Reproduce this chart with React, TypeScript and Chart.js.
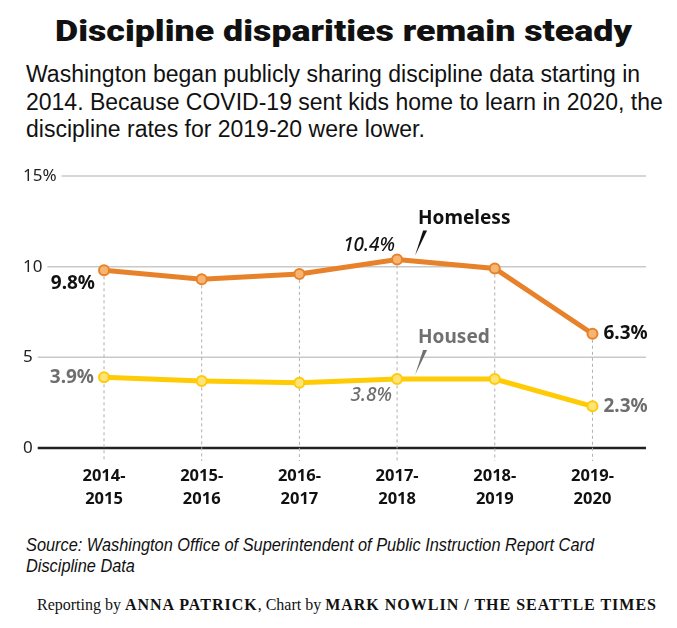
import React, { useEffect, useLayoutEffect, useRef } from "react";
import { Chart, registerables } from "chart.js";

Chart.register(...registerables);

const categories = ["2014-2015", "2015-2016", "2016-2017", "2017-2018", "2018-2019", "2019-2020"];
const homeless = [9.8, 9.3, 9.6, 10.4, 9.9, 6.3];
const housed = [3.9, 3.7, 3.6, 3.8, 3.8, 2.3];
const yTickValues = [0, 5, 10, 15];
const yTickLabels = ["0", "5", "10", "15%"];
const seriesNames = ["Homeless", "Housed"];

const ORANGE = "#E8822A";
const ORANGE_LIGHT = "#F6B672";
const YELLOW = "#FFCB05";
const YELLOW_LIGHT = "#FFE37A";
const DARK = "#111111";
const GRAY = "#6e6e6e";
const LABEL_FONT = "'Noto Sans', sans-serif";

const valueLabels = [
  { ds: 0, i: 0, align: "right", dx: -9, dy: 13, style: "bold", color: DARK },
  { ds: 0, i: 3, align: "right", dx: -2, dy: -14, style: "italic", color: DARK },
  { ds: 0, i: 5, align: "left", dx: 11, dy: 0, style: "bold", color: DARK },
  { ds: 1, i: 0, align: "right", dx: -10, dy: 0, style: "bold", color: GRAY },
  { ds: 1, i: 3, align: "right", dx: -5, dy: 17, style: "italic", color: GRAY },
  { ds: 1, i: 5, align: "left", dx: 11, dy: 0, style: "bold", color: GRAY },
];
const nameLabels = [
  { ds: 0, i: 3, color: DARK },
  { ds: 1, i: 3, color: "#707070" },
];

const decorPlugin = {
  id: "decor",
  beforeDatasetsDraw(chart: any) {
    const { ctx, scales, chartArea } = chart;
    const x = scales.x;
    const y = scales.y;
    ctx.save();
    ctx.font = `17px ${LABEL_FONT}`;
    yTickValues.forEach((v, k) => {
      const py = y.getPixelForValue(v);
      const w = ctx.measureText(yTickLabels[k]).width;
      const startX = y.left + w + 5;
      ctx.beginPath();
      if (v === 0) {
        ctx.strokeStyle = "#222";
        ctx.lineWidth = 2.5;
      } else {
        ctx.strokeStyle = "#c9c9c9";
        ctx.lineWidth = 1.5;
      }
      ctx.moveTo(startX, py);
      ctx.lineTo(chartArea.right, py);
      ctx.stroke();
    });
    ctx.strokeStyle = "#b0b0b0";
    ctx.lineWidth = 1;
    ctx.setLineDash([3, 3]);
    categories.forEach((_, i) => {
      const px = x.getPixelForValue(i);
      const top = y.getPixelForValue(Math.max(homeless[i], housed[i]));
      ctx.beginPath();
      ctx.moveTo(px, top);
      ctx.lineTo(px, y.bottom + 13);
      ctx.stroke();
    });
    ctx.restore();
  },
  afterDatasetsDraw(chart: any) {
    const { ctx } = chart;
    ctx.save();
    ctx.textBaseline = "middle";
    valueLabels.forEach((l) => {
      const pt = chart.getDatasetMeta(l.ds).data[l.i];
      const val = (l.ds === 0 ? homeless : housed)[l.i];
      ctx.font = l.style === "bold" ? `bold 19px ${LABEL_FONT}` : `italic 500 19px ${LABEL_FONT}`;
      ctx.fillStyle = l.color;
      ctx.textAlign = l.align;
      ctx.fillText(`${val.toFixed(1)}%`, pt.x + l.dx, pt.y + l.dy);
    });
    nameLabels.forEach((l) => {
      const pt = chart.getDatasetMeta(l.ds).data[l.i];
      ctx.fillStyle = l.color;
      ctx.font = `bold 19px ${LABEL_FONT}`;
      ctx.textAlign = "left";
      ctx.fillText(seriesNames[l.ds], pt.x + 21, pt.y - 41);
      ctx.beginPath();
      ctx.moveTo(pt.x + 18, pt.y - 4);
      ctx.lineTo(pt.x + 26, pt.y - 29);
      ctx.lineTo(pt.x + 30, pt.y - 29);
      ctx.closePath();
      ctx.fill();
    });
    ctx.restore();
  },
};

function Fit({ target, style, children }: { target: number; style: any; children: any }) {
  const ref = useRef<HTMLSpanElement>(null);
  useLayoutEffect(() => {
    const el = ref.current;
    if (!el) return;
    const apply = () => {
      el.style.transform = "none";
      const w = el.getBoundingClientRect().width;
      if (w > 0) el.style.transform = `scaleX(${target / w})`;
    };
    apply();
    (document as any).fonts?.ready?.then(apply);
  }, [target]);
  return (
    <span
      ref={ref}
      style={{ position: "absolute", display: "inline-block", whiteSpace: "nowrap", transformOrigin: "0 0", ...style }}
    >
      {children}
    </span>
  );
}

function ChartCanvas() {
  const ref = useRef<HTMLCanvasElement>(null);
  useEffect(() => {
    if (!ref.current) return;
    const chart = new Chart(ref.current, {
      type: "line",
      data: {
        datasets: [
          {
            label: seriesNames[0],
            data: homeless.map((v, i) => ({ x: i, y: v })),
            borderColor: ORANGE,
            backgroundColor: ORANGE_LIGHT,
            pointBackgroundColor: ORANGE_LIGHT,
            pointBorderColor: ORANGE,
            borderWidth: 5,
            pointRadius: 5,
            pointBorderWidth: 2,
            tension: 0,
          },
          {
            label: seriesNames[1],
            data: housed.map((v, i) => ({ x: i, y: v })),
            borderColor: YELLOW,
            backgroundColor: YELLOW_LIGHT,
            pointBackgroundColor: YELLOW_LIGHT,
            pointBorderColor: YELLOW,
            borderWidth: 5,
            pointRadius: 5,
            pointBorderWidth: 2,
            tension: 0,
          },
        ],
      },
      options: {
        animation: false,
        responsive: false,
        events: [],
        layout: { padding: { left: 23, right: 31, top: 16, bottom: 0 } },
        plugins: { legend: { display: false }, tooltip: { enabled: false } },
        scales: {
          x: {
            type: "linear",
            min: -0.471,
            max: 5.548,
            grid: { display: false },
            border: { display: false },
            afterBuildTicks: (s: any) => {
              s.ticks = categories.map((_, i) => ({ value: i }));
            },
            afterFit: (s: any) => {
              s.height = 72;
            },
            ticks: {
              autoSkip: false,
              maxRotation: 0,
              padding: 9,
              color: DARK,
              font: { family: LABEL_FONT, weight: "bold", size: 16.5, lineHeight: 1.38 },
              callback: (v: any) => {
                const c = categories[Math.round(v)];
                if (!c) return "";
                const [a, b] = c.split("-");
                return [a + "-", b];
              },
            },
          },
          y: {
            min: 0,
            max: 15,
            grid: { display: false },
            border: { display: false },
            afterBuildTicks: (s: any) => {
              s.ticks = yTickValues.map((v) => ({ value: v }));
            },
            afterFit: (s: any) => {
              s.width = 35;
            },
            ticks: {
              crossAlign: "far",
              color: "#222",
              font: { family: LABEL_FONT, size: 17 },
              callback: (v: any) => {
                const k = yTickValues.indexOf(v);
                return k >= 0 ? yTickLabels[k] : "";
              },
            },
          },
        },
      },
      plugins: [decorPlugin],
    } as any);
    return () => chart.destroy();
  }, []);
  return (
    <canvas
      ref={ref}
      width={677}
      height={360}
      style={{ position: "absolute", left: 0, top: 160, width: 677, height: 360 }}
    />
  );
}

export default function App() {
  useEffect(() => {
    document.body.style.margin = "0";
  }, []);
  return (
    <div style={{ position: "relative", width: 677, height: 628, background: "#fff", overflow: "hidden" }}>
      <Fit
        target={577}
        style={{
          top: 13,
          left: 55,
          fontFamily: "Roboto, sans-serif",
          fontWeight: 900,
          fontSize: 30,
          lineHeight: "35px",
          color: "#111",
        }}
      >
        Discipline disparities remain steady
      </Fit>
      <div
        style={{
          position: "absolute",
          top: 61,
          left: 26,
          fontFamily: "'Liberation Sans', sans-serif",
          fontSize: 23,
          lineHeight: "27.5px",
          color: "#111",
          whiteSpace: "nowrap",
        }}
      >
        Washington began publicly sharing discipline data starting in
        <br />
        2014. Because COVID-19 sent kids home to learn in 2020, the
        <br />
        discipline rates for 2019-20 were lower.
      </div>
      <ChartCanvas />
      <Fit
        target={568}
        style={{
          top: 535,
          left: 26,
          fontFamily: "'Liberation Sans', sans-serif",
          fontStyle: "italic",
          fontSize: 17.5,
          lineHeight: "21px",
          color: "#111",
        }}
      >
        Source: Washington Office of Superintendent of Public Instruction Report Card
        <br />
        Discipline Data
      </Fit>
      <Fit
        target={620}
        style={{
          top: 594,
          left: 37,
          fontFamily: "'Liberation Serif', serif",
          fontSize: 16,
          lineHeight: "22px",
          color: "#111",
        }}
      >
        Reporting by <b style={{ letterSpacing: 1 }}>ANNA PATRICK</b>, Chart by{" "}
        <b style={{ letterSpacing: 1 }}>MARK NOWLIN / THE SEATTLE TIMES</b>
      </Fit>
    </div>
  );
}
